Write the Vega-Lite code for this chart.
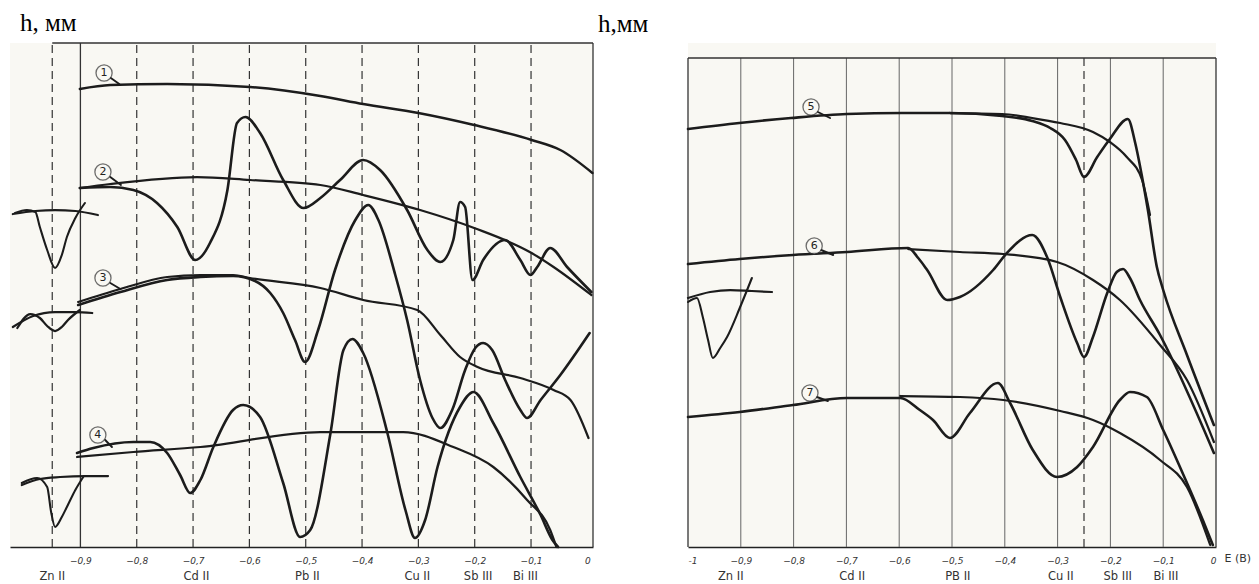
{
  "$schema": "https://vega.github.io/schema/vega-lite/v6.json",
  "background": "white",
  "padding": {"left": 10, "top": 11, "right": 0, "bottom": 0},
  "bounds": "flush",
  "spacing": 95,
  "config": {
    "view": {"stroke": null, "fill": "#f9f8f3"},
    "axis": {"domainColor": "#222", "domainWidth": 1.5, "ticks": false, "grid": false, "labelFont": "DejaVu Sans", "labelFontSize": 9, "labelFontStyle": "italic", "labelColor": "#333", "labelPadding": 9},
    "title": {"font": "Liberation Serif", "fontSize": 25, "fontWeight": "normal", "color": "#000", "anchor": "start", "frame": "group", "baseline": "alphabetic", "offset": 6}
  },
  "datasets": {
    "left": [
      {"c":"1","trace":"medium","E":-0.901,"h":91.6},{"c":"1","trace":"medium","E":-0.847,"h":92.4},{"c":"1","trace":"medium","E":-0.746,"h":92.6},{"c":"1","trace":"medium","E":-0.599,"h":92.0},{"c":"1","trace":"medium","E":-0.474,"h":90.2},{"c":"1","trace":"medium","E":-0.398,"h":88.6},{"c":"1","trace":"medium","E":-0.300,"h":86.8},{"c":"1","trace":"medium","E":-0.201,"h":84.4},{"c":"1","trace":"medium","E":-0.099,"h":81.4},{"c":"1","trace":"medium","E":-0.048,"h":79.4},{"c":"1","trace":"medium","E":0.009,"h":74.8},
      {"c":"2t","trace":"thin","E":-0.901,"h":71.8},{"c":"2t","trace":"thin","E":-0.847,"h":72.6},{"c":"2t","trace":"thin","E":-0.693,"h":74.0},{"c":"2t","trace":"thin","E":-0.599,"h":73.4},{"c":"2t","trace":"thin","E":-0.474,"h":72.4},{"c":"2t","trace":"thin","E":-0.398,"h":70.4},{"c":"2t","trace":"thin","E":-0.297,"h":67.4},{"c":"2t","trace":"thin","E":-0.201,"h":63.8},{"c":"2t","trace":"thin","E":-0.099,"h":58.8},{"c":"2t","trace":"thin","E":-0.060,"h":56.0},{"c":"2t","trace":"thin","E":0.007,"h":50.4},
      {"c":"2b","trace":"bold","E":-0.901,"h":71.8},{"c":"2b","trace":"bold","E":-0.847,"h":72.0},{"c":"2b","trace":"bold","E":-0.806,"h":71.4},{"c":"2b","trace":"bold","E":-0.764,"h":68.8},{"c":"2b","trace":"bold","E":-0.728,"h":64.0},{"c":"2b","trace":"bold","E":-0.696,"h":57.4},{"c":"2b","trace":"bold","E":-0.670,"h":60.8},{"c":"2b","trace":"bold","E":-0.639,"h":71.4},{"c":"2b","trace":"bold","E":-0.622,"h":84.8},{"c":"2b","trace":"bold","E":-0.607,"h":86.0},{"c":"2b","trace":"bold","E":-0.581,"h":82.8},{"c":"2b","trace":"bold","E":-0.540,"h":73.4},{"c":"2b","trace":"bold","E":-0.504,"h":67.8},{"c":"2b","trace":"bold","E":-0.474,"h":69.8},{"c":"2b","trace":"bold","E":-0.439,"h":73.4},{"c":"2b","trace":"bold","E":-0.398,"h":77.4},{"c":"2b","trace":"bold","E":-0.368,"h":75.4},{"c":"2b","trace":"bold","E":-0.320,"h":67.4},{"c":"2b","trace":"bold","E":-0.284,"h":59.4},{"c":"2b","trace":"bold","E":-0.261,"h":57.0},{"c":"2b","trace":"bold","E":-0.238,"h":61.4},{"c":"2b","trace":"bold","E":-0.226,"h":69.0},{"c":"2b","trace":"bold","E":-0.217,"h":68.0},{"c":"2b","trace":"bold","E":-0.204,"h":53.4},{"c":"2b","trace":"bold","E":-0.185,"h":57.4},{"c":"2b","trace":"bold","E":-0.146,"h":61.4},{"c":"2b","trace":"bold","E":-0.119,"h":57.4},{"c":"2b","trace":"bold","E":-0.101,"h":54.4},{"c":"2b","trace":"bold","E":-0.089,"h":56.0},{"c":"2b","trace":"bold","E":-0.066,"h":59.8},{"c":"2b","trace":"bold","E":-0.036,"h":56.0},{"c":"2b","trace":"bold","E":0.007,"h":51.0},
      {"c":"3t","trace":"thin","E":-0.904,"h":49.0},{"c":"3t","trace":"thin","E":-0.829,"h":51.6},{"c":"3t","trace":"thin","E":-0.746,"h":54.0},{"c":"3t","trace":"thin","E":-0.687,"h":54.4},{"c":"3t","trace":"thin","E":-0.629,"h":54.4},{"c":"3t","trace":"thin","E":-0.599,"h":53.8},{"c":"3t","trace":"thin","E":-0.474,"h":51.8},{"c":"3t","trace":"thin","E":-0.398,"h":49.4},{"c":"3t","trace":"thin","E":-0.302,"h":47.4},{"c":"3t","trace":"thin","E":-0.261,"h":42.4},{"c":"3t","trace":"thin","E":-0.226,"h":38.0},{"c":"3t","trace":"thin","E":-0.195,"h":36.0},{"c":"3t","trace":"thin","E":-0.119,"h":33.8},{"c":"3t","trace":"thin","E":-0.060,"h":31.4},{"c":"3t","trace":"thin","E":-0.030,"h":29.4},{"c":"3t","trace":"thin","E":0.002,"h":21.8},
      {"c":"3b","trace":"bold","E":-0.904,"h":48.4},{"c":"3b","trace":"bold","E":-0.829,"h":51.0},{"c":"3b","trace":"bold","E":-0.746,"h":53.4},{"c":"3b","trace":"bold","E":-0.687,"h":54.0},{"c":"3b","trace":"bold","E":-0.629,"h":54.2},{"c":"3b","trace":"bold","E":-0.590,"h":53.2},{"c":"3b","trace":"bold","E":-0.563,"h":50.8},{"c":"3b","trace":"bold","E":-0.540,"h":46.8},{"c":"3b","trace":"bold","E":-0.519,"h":41.4},{"c":"3b","trace":"bold","E":-0.501,"h":37.0},{"c":"3b","trace":"bold","E":-0.478,"h":43.4},{"c":"3b","trace":"bold","E":-0.448,"h":55.4},{"c":"3b","trace":"bold","E":-0.412,"h":65.4},{"c":"3b","trace":"bold","E":-0.389,"h":68.4},{"c":"3b","trace":"bold","E":-0.371,"h":65.4},{"c":"3b","trace":"bold","E":-0.341,"h":54.4},{"c":"3b","trace":"bold","E":-0.320,"h":45.4},{"c":"3b","trace":"bold","E":-0.297,"h":33.4},{"c":"3b","trace":"bold","E":-0.275,"h":25.8},{"c":"3b","trace":"bold","E":-0.261,"h":23.8},{"c":"3b","trace":"bold","E":-0.240,"h":27.4},{"c":"3b","trace":"bold","E":-0.217,"h":35.4},{"c":"3b","trace":"bold","E":-0.199,"h":39.8},{"c":"3b","trace":"bold","E":-0.185,"h":40.8},{"c":"3b","trace":"bold","E":-0.169,"h":39.4},{"c":"3b","trace":"bold","E":-0.146,"h":33.4},{"c":"3b","trace":"bold","E":-0.119,"h":27.4},{"c":"3b","trace":"bold","E":-0.107,"h":25.8},{"c":"3b","trace":"bold","E":-0.083,"h":29.4},{"c":"3b","trace":"bold","E":-0.048,"h":34.4},{"c":"3b","trace":"bold","E":0.004,"h":42.8},
      {"c":"4t","trace":"thin","E":-0.906,"h":18.0},{"c":"4t","trace":"thin","E":-0.806,"h":19.0},{"c":"4t","trace":"thin","E":-0.687,"h":20.0},{"c":"4t","trace":"thin","E":-0.474,"h":23.0},{"c":"4t","trace":"thin","E":-0.327,"h":23.0},{"c":"4t","trace":"thin","E":-0.238,"h":20.0},{"c":"4t","trace":"thin","E":-0.167,"h":16.0},{"c":"4t","trace":"thin","E":-0.107,"h":9.4},{"c":"4t","trace":"thin","E":-0.066,"h":3.4},{"c":"4t","trace":"thin","E":-0.055,"h":0.0},
      {"c":"4b","trace":"bold","E":-0.906,"h":18.8},{"c":"4b","trace":"bold","E":-0.877,"h":19.8},{"c":"4b","trace":"bold","E":-0.806,"h":21.0},{"c":"4b","trace":"bold","E":-0.776,"h":21.0},{"c":"4b","trace":"bold","E":-0.746,"h":18.8},{"c":"4b","trace":"bold","E":-0.723,"h":14.4},{"c":"4b","trace":"bold","E":-0.705,"h":10.8},{"c":"4b","trace":"bold","E":-0.687,"h":13.4},{"c":"4b","trace":"bold","E":-0.664,"h":20.0},{"c":"4b","trace":"bold","E":-0.629,"h":27.4},{"c":"4b","trace":"bold","E":-0.611,"h":28.4},{"c":"4b","trace":"bold","E":-0.581,"h":26.0},{"c":"4b","trace":"bold","E":-0.540,"h":12.8},{"c":"4b","trace":"bold","E":-0.510,"h":2.0},{"c":"4b","trace":"bold","E":-0.492,"h":3.4},{"c":"4b","trace":"bold","E":-0.456,"h":22.8},{"c":"4b","trace":"bold","E":-0.433,"h":39.4},{"c":"4b","trace":"bold","E":-0.417,"h":41.6},{"c":"4b","trace":"bold","E":-0.398,"h":38.8},{"c":"4b","trace":"bold","E":-0.355,"h":22.8},{"c":"4b","trace":"bold","E":-0.323,"h":7.4},{"c":"4b","trace":"bold","E":-0.306,"h":1.8},{"c":"4b","trace":"bold","E":-0.288,"h":5.4},{"c":"4b","trace":"bold","E":-0.266,"h":16.0},{"c":"4b","trace":"bold","E":-0.226,"h":28.0},{"c":"4b","trace":"bold","E":-0.202,"h":31.0},{"c":"4b","trace":"bold","E":-0.167,"h":24.8},{"c":"4b","trace":"bold","E":-0.119,"h":14.0},{"c":"4b","trace":"bold","E":-0.083,"h":6.4},{"c":"4b","trace":"bold","E":-0.062,"h":1.4},{"c":"4b","trace":"bold","E":-0.052,"h":0.0},
      {"c":"z2t","trace":"thin","E":-1.020,"h":66.6},{"c":"z2t","trace":"thin","E":-0.980,"h":67.2},{"c":"z2t","trace":"thin","E":-0.945,"h":67.4},{"c":"z2t","trace":"thin","E":-0.909,"h":67.2},{"c":"z2t","trace":"thin","E":-0.869,"h":66.4},
      {"c":"z2b","trace":"inset","E":-1.016,"h":66.8},{"c":"z2b","trace":"inset","E":-0.995,"h":67.4},{"c":"z2b","trace":"inset","E":-0.980,"h":67.0},{"c":"z2b","trace":"inset","E":-0.972,"h":64.0},{"c":"z2b","trace":"inset","E":-0.959,"h":59.4},{"c":"z2b","trace":"inset","E":-0.945,"h":55.8},{"c":"z2b","trace":"inset","E":-0.933,"h":58.4},{"c":"z2b","trace":"inset","E":-0.924,"h":62.0},{"c":"z2b","trace":"inset","E":-0.909,"h":65.8},{"c":"z2b","trace":"inset","E":-0.892,"h":68.8},
      {"c":"z3t","trace":"thin","E":-1.020,"h":44.0},{"c":"z3t","trace":"thin","E":-0.984,"h":46.2},{"c":"z3t","trace":"thin","E":-0.945,"h":47.0},{"c":"z3t","trace":"thin","E":-0.909,"h":47.0},{"c":"z3t","trace":"thin","E":-0.879,"h":46.8},
      {"c":"z3b","trace":"thin","E":-1.012,"h":43.8},{"c":"z3b","trace":"thin","E":-0.989,"h":46.6},{"c":"z3b","trace":"thin","E":-0.972,"h":45.8},{"c":"z3b","trace":"thin","E":-0.959,"h":44.2},{"c":"z3b","trace":"thin","E":-0.945,"h":43.2},{"c":"z3b","trace":"thin","E":-0.933,"h":44.0},{"c":"z3b","trace":"thin","E":-0.922,"h":45.4},{"c":"z3b","trace":"thin","E":-0.901,"h":47.4},
      {"c":"z4t","trace":"thin","E":-1.004,"h":12.4},{"c":"z4t","trace":"thin","E":-0.972,"h":13.6},{"c":"z4t","trace":"thin","E":-0.936,"h":14.0},{"c":"z4t","trace":"thin","E":-0.892,"h":14.2},{"c":"z4t","trace":"thin","E":-0.851,"h":14.2},
      {"c":"z4b","trace":"inset","E":-1.004,"h":12.8},{"c":"z4b","trace":"inset","E":-0.977,"h":13.8},{"c":"z4b","trace":"inset","E":-0.959,"h":12.0},{"c":"z4b","trace":"inset","E":-0.952,"h":7.0},{"c":"z4b","trace":"inset","E":-0.945,"h":4.0},{"c":"z4b","trace":"inset","E":-0.933,"h":6.0},{"c":"z4b","trace":"inset","E":-0.924,"h":8.0},{"c":"z4b","trace":"inset","E":-0.909,"h":11.4},{"c":"z4b","trace":"inset","E":-0.895,"h":14.0},
      {"c":"L1","trace":"leader","E":-0.846,"h":93.8},{"c":"L1","trace":"leader","E":-0.831,"h":92.6},
      {"c":"L2","trace":"leader","E":-0.847,"h":74.0},{"c":"L2","trace":"leader","E":-0.828,"h":72.4},
      {"c":"L3","trace":"leader","E":-0.847,"h":52.8},{"c":"L3","trace":"leader","E":-0.829,"h":51.6},
      {"c":"L4","trace":"leader","E":-0.856,"h":21.4},{"c":"L4","trace":"leader","E":-0.844,"h":20.0}
    ],
    "right": [
      {"c":"5b","trace":"bold","E":-1.000,"h":83.6},{"c":"5b","trace":"bold","E":-0.903,"h":84.8},{"c":"5b","trace":"bold","E":-0.805,"h":85.8},{"c":"5b","trace":"bold","E":-0.699,"h":86.6},{"c":"5b","trace":"bold","E":-0.595,"h":86.8},{"c":"5b","trace":"bold","E":-0.504,"h":86.8},{"c":"5b","trace":"bold","E":-0.405,"h":86.2},{"c":"5b","trace":"bold","E":-0.348,"h":85.2},{"c":"5b","trace":"bold","E":-0.314,"h":83.8},{"c":"5b","trace":"bold","E":-0.286,"h":81.4},{"c":"5b","trace":"bold","E":-0.265,"h":77.4},{"c":"5b","trace":"bold","E":-0.250,"h":74.0},{"c":"5b","trace":"bold","E":-0.225,"h":78.0},{"c":"5b","trace":"bold","E":-0.201,"h":81.6},{"c":"5b","trace":"bold","E":-0.167,"h":85.6},{"c":"5b","trace":"bold","E":-0.153,"h":80.8},{"c":"5b","trace":"bold","E":-0.140,"h":74.0},{"c":"5b","trace":"bold","E":-0.129,"h":67.4},{"c":"5b","trace":"bold","E":-0.112,"h":56.0},{"c":"5b","trace":"bold","E":-0.100,"h":51.4},{"c":"5b","trace":"bold","E":-0.055,"h":38.4},{"c":"5b","trace":"bold","E":-0.004,"h":24.4},
      {"c":"5t","trace":"thin","E":-0.504,"h":86.8},{"c":"5t","trace":"thin","E":-0.405,"h":86.6},{"c":"5t","trace":"thin","E":-0.348,"h":85.8},{"c":"5t","trace":"thin","E":-0.295,"h":84.8},{"c":"5t","trace":"thin","E":-0.233,"h":83.0},{"c":"5t","trace":"thin","E":-0.201,"h":81.0},{"c":"5t","trace":"thin","E":-0.169,"h":78.0},{"c":"5t","trace":"thin","E":-0.140,"h":73.4},{"c":"5t","trace":"thin","E":-0.125,"h":66.4},
      {"c":"6b","trace":"bold","E":-1.000,"h":56.6},{"c":"6b","trace":"bold","E":-0.902,"h":57.6},{"c":"6b","trace":"bold","E":-0.801,"h":58.4},{"c":"6b","trace":"bold","E":-0.699,"h":59.0},{"c":"6b","trace":"bold","E":-0.583,"h":59.8},{"c":"6b","trace":"bold","E":-0.564,"h":57.8},{"c":"6b","trace":"bold","E":-0.547,"h":55.4},{"c":"6b","trace":"bold","E":-0.509,"h":49.4},{"c":"6b","trace":"bold","E":-0.485,"h":50.0},{"c":"6b","trace":"bold","E":-0.422,"h":55.4},{"c":"6b","trace":"bold","E":-0.396,"h":58.8},{"c":"6b","trace":"bold","E":-0.348,"h":62.4},{"c":"6b","trace":"bold","E":-0.320,"h":58.0},{"c":"6b","trace":"bold","E":-0.295,"h":50.0},{"c":"6b","trace":"bold","E":-0.263,"h":40.8},{"c":"6b","trace":"bold","E":-0.250,"h":38.0},{"c":"6b","trace":"bold","E":-0.233,"h":42.0},{"c":"6b","trace":"bold","E":-0.206,"h":50.8},{"c":"6b","trace":"bold","E":-0.188,"h":55.0},{"c":"6b","trace":"bold","E":-0.176,"h":55.6},{"c":"6b","trace":"bold","E":-0.163,"h":53.8},{"c":"6b","trace":"bold","E":-0.144,"h":49.4},{"c":"6b","trace":"bold","E":-0.106,"h":42.4},{"c":"6b","trace":"bold","E":-0.004,"h":18.8},
      {"c":"6t","trace":"thin","E":-0.583,"h":59.6},{"c":"6t","trace":"thin","E":-0.485,"h":59.0},{"c":"6t","trace":"thin","E":-0.403,"h":58.6},{"c":"6t","trace":"thin","E":-0.301,"h":57.0},{"c":"6t","trace":"thin","E":-0.233,"h":53.4},{"c":"6t","trace":"thin","E":-0.182,"h":49.4},{"c":"6t","trace":"thin","E":-0.106,"h":40.4},{"c":"6t","trace":"thin","E":-0.055,"h":33.4},{"c":"6t","trace":"thin","E":-0.004,"h":21.0},
      {"c":"7b","trace":"bold","E":-1.000,"h":26.0},{"c":"7b","trace":"bold","E":-0.902,"h":27.0},{"c":"7b","trace":"bold","E":-0.801,"h":28.4},{"c":"7b","trace":"bold","E":-0.699,"h":29.8},{"c":"7b","trace":"bold","E":-0.598,"h":29.8},{"c":"7b","trace":"bold","E":-0.561,"h":27.4},{"c":"7b","trace":"bold","E":-0.536,"h":25.4},{"c":"7b","trace":"bold","E":-0.504,"h":21.8},{"c":"7b","trace":"bold","E":-0.466,"h":26.8},{"c":"7b","trace":"bold","E":-0.413,"h":32.8},{"c":"7b","trace":"bold","E":-0.390,"h":28.8},{"c":"7b","trace":"bold","E":-0.347,"h":19.4},{"c":"7b","trace":"bold","E":-0.301,"h":14.0},{"c":"7b","trace":"bold","E":-0.263,"h":16.0},{"c":"7b","trace":"bold","E":-0.233,"h":20.0},{"c":"7b","trace":"bold","E":-0.182,"h":29.4},{"c":"7b","trace":"bold","E":-0.163,"h":31.0},{"c":"7b","trace":"bold","E":-0.131,"h":30.0},{"c":"7b","trace":"bold","E":-0.100,"h":23.4},{"c":"7b","trace":"bold","E":-0.055,"h":12.8},{"c":"7b","trace":"bold","E":-0.025,"h":5.4},{"c":"7b","trace":"bold","E":-0.006,"h":0.4},
      {"c":"7t","trace":"thin","E":-0.598,"h":30.2},{"c":"7t","trace":"thin","E":-0.485,"h":30.0},{"c":"7t","trace":"thin","E":-0.403,"h":29.4},{"c":"7t","trace":"thin","E":-0.295,"h":27.2},{"c":"7t","trace":"thin","E":-0.233,"h":25.4},{"c":"7t","trace":"thin","E":-0.182,"h":22.8},{"c":"7t","trace":"thin","E":-0.106,"h":17.4},{"c":"7t","trace":"thin","E":-0.055,"h":12.0},{"c":"7t","trace":"thin","E":-0.011,"h":0.4},
      {"c":"zt","trace":"thin","E":-1.000,"h":49.8},{"c":"zt","trace":"thin","E":-0.958,"h":51.0},{"c":"zt","trace":"thin","E":-0.920,"h":51.4},{"c":"zt","trace":"thin","E":-0.879,"h":51.2},{"c":"zt","trace":"thin","E":-0.841,"h":51.0},
      {"c":"zb","trace":"inset","E":-1.000,"h":49.0},{"c":"zb","trace":"inset","E":-0.983,"h":49.8},{"c":"zb","trace":"inset","E":-0.972,"h":46.0},{"c":"zb","trace":"inset","E":-0.962,"h":41.4},{"c":"zb","trace":"inset","E":-0.953,"h":37.8},{"c":"zb","trace":"inset","E":-0.939,"h":39.8},{"c":"zb","trace":"inset","E":-0.926,"h":42.0},{"c":"zb","trace":"inset","E":-0.902,"h":47.8},{"c":"zb","trace":"inset","E":-0.879,"h":53.8},
      {"c":"L5","trace":"leader","E":-0.754,"h":87.0},{"c":"L5","trace":"leader","E":-0.731,"h":85.8},
      {"c":"L6","trace":"leader","E":-0.748,"h":59.4},{"c":"L6","trace":"leader","E":-0.725,"h":58.4},
      {"c":"L7","trace":"leader","E":-0.756,"h":30.0},{"c":"L7","trace":"leader","E":-0.735,"h":29.2}
    ],
    "leftNumbers": [
      {"n":"1","E":-0.858,"h":94.8},{"n":"2","E":-0.860,"h":75.0},{"n":"3","E":-0.860,"h":53.8},{"n":"4","E":-0.869,"h":22.4}
    ],
    "rightNumbers": [
      {"n":"5","E":-0.767,"h":88.0},{"n":"6","E":-0.761,"h":60.2},{"n":"7","E":-0.769,"h":30.8}
    ],
    "leftIons": [
      {"ion":"Zn II","E":-0.95},{"ion":"Cd II","E":-0.694},{"ion":"Pb II","E":-0.497},{"ion":"Cu II","E":-0.302},{"ion":"Sb III","E":-0.194},{"ion":"Bi III","E":-0.110}
    ],
    "rightIons": [
      {"ion":"Zn II","E":-0.919},{"ion":"Cd II","E":-0.689},{"ion":"PB II","E":-0.489},{"ion":"Cu II","E":-0.294},{"ion":"Sb III","E":-0.186},{"ion":"Bi III","E":-0.095}
    ]
  },
  "hconcat": [
    {
      "width": 583,
      "height": 504,
      "title": {"text": "h, мм", "dx": 10},
      "encoding": {
        "x": {"field": "E", "type": "quantitative", "scale": {"domain": [-1.025, 0.01], "nice": false, "zero": false},
              "axis": {"values": [-0.9,-0.8,-0.7,-0.6,-0.5,-0.4,-0.3,-0.2,-0.1,0], "title": null,
                       "labelExpr": "datum.value == 0 ? '0' : replace(format(datum.value, '.1f'), '.', ',')"}}
      },
      "layer": [
        {"data": {"values": [{"E":-0.95},{"E":-0.8},{"E":-0.7},{"E":-0.6},{"E":-0.5},{"E":-0.4},{"E":-0.3},{"E":-0.2},{"E":-0.1}]},
         "mark": {"type": "rule", "strokeDash": [8, 5], "color": "#333", "strokeWidth": 1.2},
         "encoding": {"y": {"datum": 0, "type": "quantitative", "scale": {"domain": [0, 100.8], "nice": false, "zero": false}, "axis": null}, "y2": {"datum": 100.8}}},
        {"data": {"values": [{"E":-0.9},{"E":0.01}]},
         "mark": {"type": "rule", "color": "#333", "strokeWidth": 1.3},
         "encoding": {"y": {"datum": 0, "type": "quantitative", "scale": {"domain": [0, 100.8], "nice": false, "zero": false}, "axis": null}, "y2": {"datum": 100.8}}},
        {"data": {"values": [{"E":-0.95,"E2":0.01,"h":100.8}]},
         "mark": {"type": "rule", "color": "#333", "strokeWidth": 1.3},
         "encoding": {"x2": {"field": "E2"}, "y": {"field": "h", "type": "quantitative", "scale": {"domain": [0, 100.8], "nice": false, "zero": false}, "axis": null}}},
        {"data": {"name": "left"},
         "mark": {"type": "line", "interpolate": "monotone", "color": "#1c1c1c", "strokeCap": "round", "strokeJoin": "round"},
         "encoding": {"y": {"field": "h", "type": "quantitative", "scale": {"domain": [0, 100.8], "nice": false, "zero": false}, "axis": null},
                      "detail": {"field": "c"},
                      "strokeWidth": {"field": "trace", "type": "nominal", "scale": {"domain": ["bold","medium","thin","inset","leader"], "range": [2.6, 1.9, 1.1, 1.5, 0.9]}, "legend": null}}},
        {"data": {"name": "leftNumbers"},
         "mark": {"type": "point", "shape": "circle", "size": 260, "filled": true, "fill": "#f9f8f3", "stroke": "#333", "strokeWidth": 1.3},
         "encoding": {"y": {"field": "h", "type": "quantitative", "scale": {"domain": [0, 100.8], "nice": false, "zero": false}, "axis": null}}},
        {"data": {"name": "leftNumbers"},
         "mark": {"type": "text", "font": "DejaVu Sans", "fontSize": 11, "color": "#222"},
         "encoding": {"y": {"field": "h", "type": "quantitative", "scale": {"domain": [0, 100.8], "nice": false, "zero": false}, "axis": null}, "text": {"field": "n"}}},
        {"data": {"name": "leftIons"},
         "mark": {"type": "text", "font": "DejaVu Sans", "fontSize": 11.5, "color": "#333", "dy": 30},
         "encoding": {"y": {"datum": 0, "type": "quantitative", "scale": {"domain": [0, 100.8], "nice": false, "zero": false}, "axis": null}, "text": {"field": "ion"}}}
      ]
    },
    {
      "width": 528,
      "height": 504,
      "title": {"text": "h,мм", "dx": -90},
      "encoding": {
        "x": {"field": "E", "type": "quantitative", "scale": {"domain": [-1, 0], "nice": false, "zero": false},
              "axis": {"values": [-1,-0.9,-0.8,-0.7,-0.6,-0.5,-0.4,-0.3,-0.2,-0.1,0], "title": "E (В)",
                       "titleFont": "DejaVu Sans", "titleFontSize": 11, "titleFontWeight": "normal", "titleColor": "#333",
                       "titleAnchor": "start", "titleAlign": "left", "titleBaseline": "middle", "titleX": 536, "titleY": 11, "titleAngle": 0,
                       "labelExpr": "datum.value == 0 ? '0' : datum.value == -1 ? '-1' : replace(format(datum.value, '.1f'), '.', ',')"}}
      },
      "layer": [
        {"data": {"values": [{"E":-0.9},{"E":-0.8},{"E":-0.7},{"E":-0.6},{"E":-0.5},{"E":-0.4},{"E":-0.3},{"E":-0.2},{"E":-0.1}]},
         "mark": {"type": "rule", "color": "#666", "strokeWidth": 1},
         "encoding": {"y": {"datum": 0, "type": "quantitative", "scale": {"domain": [0, 100.8], "nice": false, "zero": false}, "axis": null}, "y2": {"datum": 97.8}}},
        {"data": {"values": [{"E":-1},{"E":0}]},
         "mark": {"type": "rule", "color": "#333", "strokeWidth": 1.3},
         "encoding": {"y": {"datum": 0, "type": "quantitative", "scale": {"domain": [0, 100.8], "nice": false, "zero": false}, "axis": null}, "y2": {"datum": 97.8}}},
        {"data": {"values": [{"E":-0.25}]},
         "mark": {"type": "rule", "strokeDash": [8, 5], "color": "#333", "strokeWidth": 1.2},
         "encoding": {"y": {"datum": 0, "type": "quantitative", "scale": {"domain": [0, 100.8], "nice": false, "zero": false}, "axis": null}, "y2": {"datum": 97.8}}},
        {"data": {"values": [{"E":-1,"E2":0,"h":97.8}]},
         "mark": {"type": "rule", "color": "#333", "strokeWidth": 1.3},
         "encoding": {"x2": {"field": "E2"}, "y": {"field": "h", "type": "quantitative", "scale": {"domain": [0, 100.8], "nice": false, "zero": false}, "axis": null}}},
        {"data": {"name": "right"},
         "mark": {"type": "line", "interpolate": "monotone", "color": "#1c1c1c", "strokeCap": "round", "strokeJoin": "round"},
         "encoding": {"y": {"field": "h", "type": "quantitative", "scale": {"domain": [0, 100.8], "nice": false, "zero": false}, "axis": null},
                      "detail": {"field": "c"},
                      "strokeWidth": {"field": "trace", "type": "nominal", "scale": {"domain": ["bold","medium","thin","inset","leader"], "range": [2.6, 1.9, 1.1, 1.5, 0.9]}, "legend": null}}},
        {"data": {"name": "rightNumbers"},
         "mark": {"type": "point", "shape": "circle", "size": 260, "filled": true, "fill": "#f9f8f3", "stroke": "#333", "strokeWidth": 1.3},
         "encoding": {"y": {"field": "h", "type": "quantitative", "scale": {"domain": [0, 100.8], "nice": false, "zero": false}, "axis": null}}},
        {"data": {"name": "rightNumbers"},
         "mark": {"type": "text", "font": "DejaVu Sans", "fontSize": 11, "color": "#222"},
         "encoding": {"y": {"field": "h", "type": "quantitative", "scale": {"domain": [0, 100.8], "nice": false, "zero": false}, "axis": null}, "text": {"field": "n"}}},
        {"data": {"name": "rightIons"},
         "mark": {"type": "text", "font": "DejaVu Sans", "fontSize": 11.5, "color": "#333", "dy": 30},
         "encoding": {"y": {"datum": 0, "type": "quantitative", "scale": {"domain": [0, 100.8], "nice": false, "zero": false}, "axis": null}, "text": {"field": "ion"}}}
      ]
    }
  ]
}
